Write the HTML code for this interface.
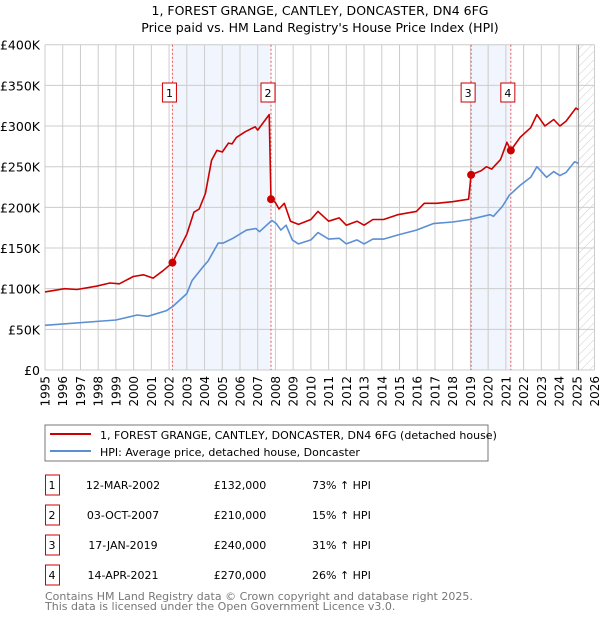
<!DOCTYPE html>
<html><head><meta charset="utf-8"><style>
body{margin:0;background:#fff;font-family:"DejaVu Sans","Liberation Sans",sans-serif;}
svg text{font-family:"DejaVu Sans","Liberation Sans",sans-serif;}
</style></head><body>
<svg id="chart" width="600" height="620" xmlns="http://www.w3.org/2000/svg">
<text x="320" y="15" text-anchor="middle" font-size="12.5">1, FOREST GRANGE, CANTLEY, DONCASTER, DN4 6FG</text>
<text x="320" y="32" text-anchor="middle" font-size="12.5">Price paid vs. HM Land Registry's House Price Index (HPI)</text>
<g id="plot"></g>
<rect x="45" y="425" width="443" height="36" fill="#fff" stroke="#777"/>
<line x1="50" y1="434" x2="91" y2="434" stroke="#cc0000" stroke-width="2"/>
<text x="100" y="439" font-size="11">1, FOREST GRANGE, CANTLEY, DONCASTER, DN4 6FG (detached house)</text>
<line x1="50" y1="451" x2="91" y2="451" stroke="#5b8fd4" stroke-width="2"/>
<text x="100" y="456" font-size="11">HPI: Average price, detached house, Doncaster</text>
<g id="table" font-size="11"></g>
<text x="45" y="600" font-size="11" fill="#777">Contains HM Land Registry data © Crown copyright and database right 2025.</text>
<text x="45" y="610" font-size="11" fill="#777">This data is licensed under the Open Government Licence v3.0.</text>
</svg>
<script>
const hpiYears=[1995,1999,2000.2,2000.8,2001.86,2002.2,2003,2003.3,2003.92,2004.2,2004.77,2005.05,2005.6,2006.37,2006.9,2007.1,2007.8,2008.05,2008.3,2008.6,2008.95,2009.3,2010,2010.4,2011,2011.6,2012,2012.6,2013,2013.5,2014.1,2014.9,2015.95,2016.9,2018,2018.96,2020.1,2020.3,2020.8,2021.2,2021.8,2022.4,2022.75,2023.3,2023.7,2024.05,2024.4,2024.88,2025.1];
const hpiValues=[55,61.5,67.6,66,73,78,94,110,127,134,156,156,162,172,174,170,184,180,172,178,160,155,160,169,161,162,155,160,155,161,161,166,172,180,182,185,191,189,201,215,227,237,250,237,244,239,243,256,254];
const priceYears=[1995,1996.1,1996.8,1997.9,1998.66,1999.2,1999.98,2000.55,2001.1,2001.65,2002.19,2003,2003.4,2003.7,2004.05,2004.4,2004.7,2005,2005.35,2005.55,2005.8,2006.3,2006.85,2007,2007.65,2007.75,2008,2008.2,2008.5,2008.85,2009.3,2010,2010.4,2011,2011.6,2012,2012.6,2013,2013.5,2014.1,2014.9,2015.95,2016.4,2017.1,2018,2018.9,2019.04,2019.6,2019.9,2020.2,2020.7,2021.06,2021.28,2021.8,2022.4,2022.75,2023.2,2023.7,2024.05,2024.4,2024.95,2025.1];
const priceValues=[96,100,99,103,107,106,115,117,113,122,132,167,194,198,217,258,270,268,279,278,286,293,299,295,314,210,206,198,205,183,179,185,195,183,187,178,183,178,185,185,191,195,205,205,207,210,240,245,250,247,259,280,270,286,298,314,300,308,300,306,322,320];
const saleLabels=["1","2","3","4"];
const saleYears=[2002.19,2007.75,2019.04,2021.28];
const salePrices=[132,210,240,270];
const saleDates=["12-MAR-2002","03-OCT-2007","17-JAN-2019","14-APR-2021"];
const salePriceText=["£132,000","£210,000","£240,000","£270,000"];
const saleHpiText=["73% ↑ HPI","15% ↑ HPI","31% ↑ HPI","26% ↑ HPI"];
const yTicks=[0,50,100,150,200,250,300,350,400];
const yTickLabels=["£0","£50K","£100K","£150K","£200K","£250K","£300K","£350K","£400K"];
const xTicks=[1995,1996,1997,1998,1999,2000,2001,2002,2003,2004,2005,2006,2007,2008,2009,2010,2011,2012,2013,2014,2015,2016,2017,2018,2019,2020,2021,2022,2023,2024,2025,2026];

const NS="http://www.w3.org/2000/svg";
const X0=45,X1=594.5,Y0=370,Y1=44.7;
const xs=y=>X0+(y-1995)/(2026-1995)*(X1-X0);
const ys=v=>Y0-v/400*(Y0-Y1);
const plot=document.getElementById('plot');
function mk(tag,attrs,parent){const e=document.createElementNS(NS,tag);for(const k in attrs)e.setAttribute(k,attrs[k]);(parent||plot).appendChild(e);return e;}
for(let i=0;i<saleYears.length;i+=2){
 const b=mk('rect',{x:xs(saleYears[i]),y:Y1,width:xs(saleYears[i+1])-xs(saleYears[i]),height:Y0-Y1,fill:'#eef3fc',opacity:0.8});
 
 
}
const defs=mk('defs',{});
const pat=mk('pattern',{id:'hatch',width:6,height:6,patternUnits:'userSpaceOnUse',patternTransform:'rotate(45)'},defs);
mk('line',{x1:0,y1:0,x2:0,y2:6,stroke:'#ccc','stroke-width':1},pat);
const h=mk('rect',{x:xs(2025.1),y:Y1,width:X1-xs(2025.1),height:Y0-Y1,fill:'url(#hatch)'});


yTicks.forEach((t,i)=>{
 const l=mk('line',{x1:X0,x2:X1,y1:ys(t),y2:ys(t),stroke:'#ccc','stroke-width':1});
 
 
 const tx=mk('text',{x:40,y:ys(t)+5,'text-anchor':'end','font-size':12.5});
 tx.textContent=yTickLabels[i];
 
 
});
xTicks.forEach(t=>{
 const l=mk('line',{x1:xs(t),x2:xs(t),y1:Y1,y2:Y0,stroke:'#ccc','stroke-width':1});
 
 
 const x=xs(t)+4.5,y=376;
 const tx=mk('text',{x:x,y:y,'text-anchor':'end','font-size':12,transform:'rotate(-90 '+x+' '+y+')'});
 tx.textContent=t;
 
 
});
const vl=mk('line',{x1:xs(2025.1),x2:xs(2025.1),y1:Y1,y2:Y0,stroke:'#999','stroke-width':1});


saleYears.forEach((s,i)=>{
 const l=mk('line',{x1:xs(s),x2:xs(s),y1:Y1,y2:Y0,stroke:'#e55','stroke-width':1,'stroke-dasharray':'2,2'});
 
 
});
function path(xa,va,color,name){
 const d=xa.map((x,i)=>(i?'L':'M')+xs(x).toFixed(1)+','+ys(va[i]).toFixed(1)).join('');
 const p=mk('path',{d:d,fill:'none',stroke:color,'stroke-width':1.6,'stroke-linejoin':'round'});
 
 
}
path(hpiYears,hpiValues,'#5b8fd4','hpi-line');
path(priceYears,priceValues,'#cc0000','price-line');
saleYears.forEach((s,i)=>{
 const c=mk('circle',{cx:xs(s),cy:ys(salePrices[i]),r:4,fill:'#cc0000'});
 
 
 const bx=mk('rect',{x:xs(s)-10,y:83,width:14,height:19,fill:'#fff',stroke:'#cc0000'});
 
 
 const t=mk('text',{x:xs(s)-3,y:97,'text-anchor':'middle','font-size':11});
 t.textContent=saleLabels[i];
 
 
});
const tb=document.getElementById('table');
saleLabels.forEach((lab,i)=>{
 const cy=483+i*30;
 const r=mk('rect',{x:45.5,y:cy-8,width:14,height:20,fill:'#fff',stroke:'#cc0000'},tb);
 
 
 const cells=[[52,lab,'middle'],[123,saleDates[i],'middle'],[240,salePriceText[i],'middle'],[312,saleHpiText[i],'start']];
 cells.forEach(c=>{
  const t=mk('text',{x:c[0],y:cy+6,'text-anchor':c[2]},tb);
  t.textContent=c[1];
  
  
 });
});
</script>
</body></html>
